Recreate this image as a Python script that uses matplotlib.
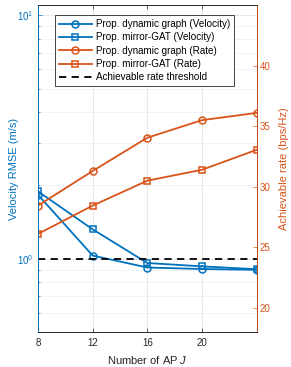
import matplotlib.pyplot as plt
from matplotlib.ticker import LogLocator, NullFormatter

plt.rcParams['font.family'] = ['Liberation Sans', 'DejaVu Sans']
plt.rcParams['mathtext.fontset'] = 'custom'
plt.rcParams['mathtext.rm'] = 'Liberation Sans'
plt.rcParams['mathtext.it'] = 'Liberation Sans:italic'

# number of APs
aps = [8, 12, 16, 20, 24]

# velocity RMSE (m/s), left log axis
vel_dyn = [1.83, 1.03, 0.92, 0.907, 0.90]
vel_gat = [1.89, 1.32, 0.96, 0.93, 0.905]

# achievable rate (bps/Hz), right axis
rate_dyn = [28.44, 31.3, 34.05, 35.5, 36.1]
rate_gat = [26.1, 28.44, 30.5, 31.4, 33.05]
rate_thr = 24

blue = (0, 0.447, 0.741)
orange = (0.85, 0.325, 0.098)
dark = (0.15, 0.15, 0.15)

fig = plt.figure(figsize=(2.91, 3.67), dpi=100)
ax = fig.add_axes([0.1306, 0.0954, 0.7514, 0.8906])
ax2 = ax.twinx()

l1, = ax.plot(aps, vel_dyn, '-o', color=blue, lw=1.3, ms=5, mfc='none', mew=1.1,
              label='Prop. dynamic graph (Velocity)')
l2, = ax.plot(aps, vel_gat, '-s', color=blue, lw=1.3, ms=5, mfc='none', mew=1.1,
              label='Prop. mirror-GAT (Velocity)')
l3, = ax2.plot(aps, rate_dyn, '-o', color=orange, lw=1.3, ms=5, mfc='none', mew=1.1,
               label='Prop. dynamic graph (Rate)')
l4, = ax2.plot(aps, rate_gat, '-s', color=orange, lw=1.3, ms=5, mfc='none', mew=1.1,
               label='Prop. mirror-GAT (Rate)')
l5 = ax2.axhline(rate_thr, color='k', ls=(0, (4, 3)), lw=1.3,
                 label='Achievable rate threshold')

ax.set_yscale('log')
ax.set_xlim(8, 24)
ax.set_ylim(0.5, 11)
ax2.set_ylim(18, 45)
ax.set_xticks([8, 12, 16, 20])
ax2.set_yticks([20, 25, 30, 35, 40])
ax.yaxis.set_minor_locator(LogLocator(base=10, subs=range(2, 10)))
ax.yaxis.set_minor_formatter(NullFormatter())

ax.grid(True, which='major', axis='x', color=dark, alpha=0.12, lw=0.6)
ax.grid(True, which='major', axis='y', color=dark, alpha=0.12, lw=0.6)
ax.grid(True, which='minor', axis='y', color=(0.3, 0.5, 0.8), alpha=0.3, lw=0.6, ls=(0, (1, 2)))

fs = 7.0
ax.tick_params(axis='x', direction='in', top=True, labelsize=fs, colors=dark, length=3, width=0.5, pad=4)
ax.tick_params(axis='y', which='both', direction='in', colors=blue, labelsize=fs, width=0.5)
ax.tick_params(axis='y', which='major', length=3)
ax.tick_params(axis='y', which='minor', length=1.5)
ax2.tick_params(axis='y', direction='in', colors=orange, labelsize=fs, length=3, width=0.5, pad=2)

for sp in ['top', 'bottom']:
    ax.spines[sp].set_color(dark)
    ax2.spines[sp].set_color(dark)
ax.spines['left'].set_color(blue)
ax2.spines['left'].set_color(blue)
ax2.spines['right'].set_color(orange)
for a in (ax, ax2):
    for sp in a.spines.values():
        sp.set_linewidth(0.6)

lfs = 8.0
ax.set_xlabel('Number of AP $J$', fontsize=lfs, color=dark)
ax.set_ylabel('Velocity RMSE (m/s)', fontsize=lfs, color=blue)
ax2.set_ylabel('Achievable rate (bps/Hz)', fontsize=lfs, color=orange)
ax.xaxis.set_label_coords(0.5, -0.067)
ax.yaxis.set_label_coords(-0.089, 0.5)
ax2.yaxis.set_label_coords(1.102, 0.5)

leg = ax2.legend(handles=[l1, l2, l3, l4, l5], loc='upper left',
                 bbox_to_anchor=(0.078, 0.969), borderaxespad=0, fontsize=7.1,
                 handlelength=3.3, handletextpad=0.45, labelspacing=0.33,
                 borderpad=0.4, fancybox=False, framealpha=1, edgecolor=dark)
leg.get_frame().set_linewidth(0.6)

fig.savefig('out.png', dpi=100)
